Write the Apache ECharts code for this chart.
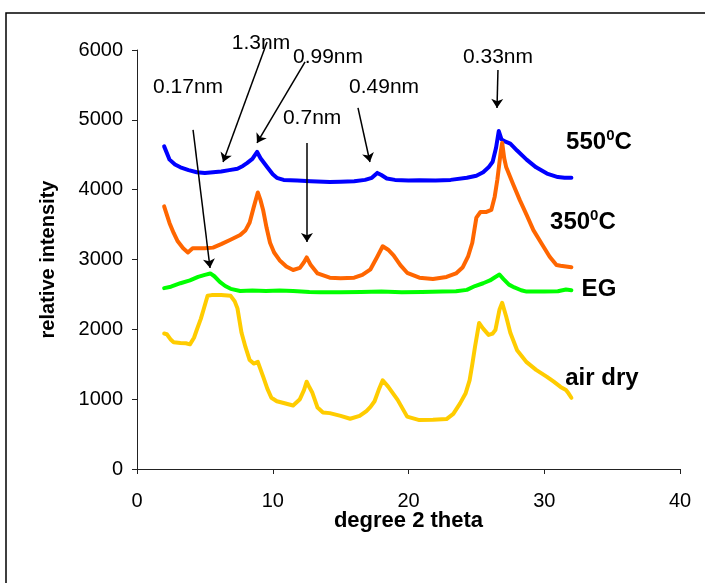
<!DOCTYPE html>
<html>
<head>
<meta charset="utf-8">
<script src="https://cdn.jsdelivr.net/npm/echarts@6/dist/echarts.min.js"></script>
<style>
  html, body { margin: 0; padding: 0; background: #fff; }
  #chart { width: 705px; height: 583px; }
</style>
</head>
<body>
<div id="chart"></div>
<script>
// X-ray diffraction patterns: [2 theta (deg), relative intensity]
const heated550 = [
  [2.0,4620],[2.1,4600],[2.4,4430],[2.8,4360],[3.2,4320],[3.8,4280],[4.4,4250],[5.0,4240],
  [5.6,4250],[6.2,4260],[6.8,4280],[7.4,4300],[7.8,4340],[8.1,4380],[8.5,4440],[8.85,4540],
  [9.1,4450],[9.6,4320],[10.0,4220],[10.3,4170],[10.8,4140],[11.8,4130],[12.8,4120],[14.2,4110],
  [15.0,4115],[16.0,4120],[16.8,4140],[17.3,4170],[17.7,4240],[18.0,4210],[18.4,4160],[19.0,4140],
  [20.0,4130],[20.8,4135],[22.0,4130],[23.1,4140],[24.3,4170],[25.0,4200],[25.5,4250],[25.9,4320],
  [26.2,4400],[26.45,4600],[26.65,4840],[26.85,4720],[27.1,4690],[27.5,4660],[28.0,4560],[28.7,4430],
  [29.4,4320],[30.2,4230],[31.0,4180],[31.5,4170],[32.0,4170]
];
const heated350 = [
  [2.0,3760],[2.1,3700],[2.4,3520],[2.7,3380],[3.0,3260],[3.4,3160],[3.75,3100],[4.1,3160],
  [4.4,3160],[5.0,3160],[5.6,3170],[6.2,3220],[6.85,3280],[7.6,3350],[8.0,3420],[8.3,3530],
  [8.6,3750],[8.9,3960],[9.1,3850],[9.3,3700],[9.55,3450],[9.8,3240],[10.1,3100],[10.5,2990],
  [11.0,2900],[11.5,2850],[12.0,2880],[12.3,2960],[12.5,3030],[12.8,2920],[13.3,2800],[14.2,2740],
  [15.0,2730],[16.0,2740],[16.6,2780],[17.2,2860],[17.7,3040],[18.1,3190],[18.5,3140],[18.9,3060],
  [19.4,2920],[19.9,2810],[20.8,2740],[21.8,2720],[22.8,2750],[23.5,2800],[24.0,2890],[24.4,3050],
  [24.7,3240],[25.0,3600],[25.3,3680],[25.7,3680],[26.1,3710],[26.35,3900],[26.55,4150],[26.8,4550],
  [26.9,4670],[27.05,4450],[27.2,4320],[27.7,4080],[28.2,3850],[28.7,3640],[29.2,3420],[29.8,3230],
  [30.4,3040],[30.9,2920],[31.2,2910],[31.6,2900],[32.0,2890]
];
const glycolated = [
  [2.0,2590],[2.5,2610],[3.2,2660],[3.9,2700],[4.5,2750],[5.0,2780],[5.4,2800],[5.7,2760],
  [6.1,2680],[6.5,2620],[6.9,2580],[7.6,2550],[8.5,2555],[9.5,2550],[10.5,2555],[11.5,2550],
  [12.7,2535],[13.5,2530],[15.0,2530],[16.5,2535],[18.0,2540],[19.5,2530],[21.0,2535],[22.5,2540],
  [23.5,2545],[24.3,2565],[24.9,2620],[25.5,2660],[26.0,2700],[26.4,2750],[26.7,2785],[27.0,2720],
  [27.4,2640],[27.8,2600],[28.3,2560],[28.7,2540],[30.0,2540],[31.0,2545],[31.6,2570],[32.0,2560]
];
const airDry = [
  [2.0,1940],[2.2,1930],[2.5,1850],[2.7,1815],[3.2,1805],[3.6,1800],[3.9,1785],[4.2,1880],
  [4.4,1990],[4.7,2150],[4.9,2280],[5.2,2480],[5.5,2490],[6.2,2490],[6.9,2480],[7.2,2400],
  [7.4,2300],[7.7,1950],[8.0,1740],[8.3,1560],[8.6,1510],[8.9,1535],[9.3,1320],[9.6,1150],
  [9.9,1020],[10.3,970],[10.8,945],[11.5,910],[12.0,1000],[12.3,1130],[12.5,1250],[12.7,1170],
  [12.9,1100],[13.3,880],[13.7,810],[14.2,800],[15.0,760],[15.7,720],[16.4,760],[16.9,830],
  [17.2,890],[17.5,970],[17.8,1130],[18.1,1270],[18.5,1180],[19.2,990],[19.9,750],[20.8,700],
  [21.8,705],[22.8,715],[23.3,790],[23.8,940],[24.2,1080],[24.5,1270],[24.7,1500],[24.9,1750],
  [25.2,2090],[25.5,2010],[25.9,1920],[26.2,1940],[26.4,1990],[26.7,2280],[26.9,2380],[27.2,2180],
  [27.5,1950],[28.0,1700],[28.7,1530],[29.4,1420],[30.2,1320],[30.7,1250],[31.2,1175],[31.6,1130],
  [31.8,1080],[32.0,1020]
];

// d-spacing callouts: text, text anchor, arrow tail, arrow head (data units)
const peakNotes = [
  { text: '1.3nm',  at: [9.13, 6100], from: [9.58, 6115],  to: [6.34, 4396] },
  { text: '0.99nm', at: [14.07, 5900], from: [12.38, 5829], to: [8.84, 4669] },
  { text: '0.17nm', at: [3.76, 5470], from: [4.13, 4855],  to: [5.38, 2878] },
  { text: '0.49nm', at: [18.2, 5470], from: [16.28, 5170], to: [17.16, 4396] },
  { text: '0.7nm',  at: [12.9, 5027], from: [12.52, 4669], to: [12.52, 3251] },
  { text: '0.33nm', at: [26.59, 5900], from: [26.59, 5714], to: [26.52, 5170] }
];

// Curve labels at the right end of each pattern
const curveLabels = [
  { text: '{b|550}{s|0}{b|C}', at: [34.03, 4683] },
  { text: '{b|350}{s|0}{b|C}', at: [32.85, 3537] },
  { text: '{b|EG}',            at: [34.03, 2578] },
  { text: '{b|air dry}',       at: [34.25, 1303] }
];

const xTicks = { min: 0, max: 40, step: 10 };
const yTicks = { min: 0, max: 6000, step: 1000 };

const FONT = '"Liberation Sans", Arial, sans-serif';

const chart = echarts.init(document.getElementById('chart'), null, { renderer: 'canvas' });

function curve(name, data, color) {
  return {
    name, type: 'line', data, showSymbol: false, smooth: false, z: 3,
    lineStyle: { color, width: 4, join: 'round', cap: 'round' },
    animation: false
  };
}

chart.setOption({
  animation: false,
  backgroundColor: '#fff',
  graphic: [{
    type: 'rect', shape: { x: 6, y: 13, width: 760, height: 640 },
    style: { fill: 'none', stroke: '#000', lineWidth: 1.5 }, silent: true, z: 0
  }],
  grid: { left: 137, right: 25, top: 50, bottom: 114 },
  xAxis: {
    type: 'value', min: xTicks.min, max: xTicks.max, interval: xTicks.step,
    name: 'degree 2 theta', nameLocation: 'middle', nameGap: 41, nameMoveOverlap: false,
    nameTextStyle: { fontFamily: FONT, fontWeight: 'bold', fontSize: 22, color: '#000' },
    axisLine: { lineStyle: { color: '#222', width: 1 } },
    axisTick: { show: true, length: 5, lineStyle: { color: '#222' } },
    axisLabel: { fontFamily: FONT, fontSize: 20, color: '#000', margin: 22 },
    splitLine: { show: false }
  },
  yAxis: {
    type: 'value', min: yTicks.min, max: yTicks.max, interval: yTicks.step,
    name: 'relative intensity', nameLocation: 'middle', nameGap: 79, nameMoveOverlap: false,
    nameTextStyle: { fontFamily: FONT, fontWeight: 'bold', fontSize: 20, color: '#000' },
    axisLine: { show: true, lineStyle: { color: '#222', width: 1 } },
    axisTick: { show: true, length: 5, lineStyle: { color: '#222' } },
    axisLabel: { fontFamily: FONT, fontSize: 20, color: '#000', margin: 14, formatter: v => String(v) },
    splitLine: { show: false }
  },
  series: [
    curve('550°C', heated550, '#0000FF'),
    curve('350°C', heated350, '#FF6600'),
    curve('EG', glycolated, '#00FF00'),
    curve('air dry', airDry, '#FFCC00'),
    {
      type: 'lines', coordinateSystem: 'cartesian2d', polyline: false, clip: false, z: 5,
      symbol: ['none', 'arrow'], symbolSize: [0, 9],
      lineStyle: { color: '#000', width: 1.5, opacity: 1, curveness: 0 },
      data: peakNotes.map(n => ({ coords: [n.from, n.to] })),
      animation: false
    },
    {
      type: 'scatter', clip: false, symbolSize: 0, z: 6,
      itemStyle: { opacity: 1 },
      data: peakNotes.map(n => ({ value: n.at, name: n.text })),
      label: {
        show: true, position: [0, 0], formatter: p => p.name,
        fontFamily: FONT, fontSize: 21, color: '#000', align: 'center', verticalAlign: 'middle'
      },
      animation: false
    },
    {
      type: 'scatter', clip: false, symbolSize: 0, z: 6,
      itemStyle: { opacity: 1 },
      data: curveLabels.map(n => ({ value: n.at, name: n.text })),
      label: {
        show: true, position: [0, 0], formatter: p => p.name, color: '#000',
        align: 'center', verticalAlign: 'middle',
        rich: {
          b: { fontFamily: FONT, fontWeight: 'bold', fontSize: 24, color: '#000', lineHeight: 28 },
          s: { fontFamily: FONT, fontWeight: 'bold', fontSize: 15, color: '#000', verticalAlign: 'top', lineHeight: 28, padding: [0, 0, 8, 0] }
        }
      },
      animation: false
    }
  ]
});
</script>
</body>
</html>
